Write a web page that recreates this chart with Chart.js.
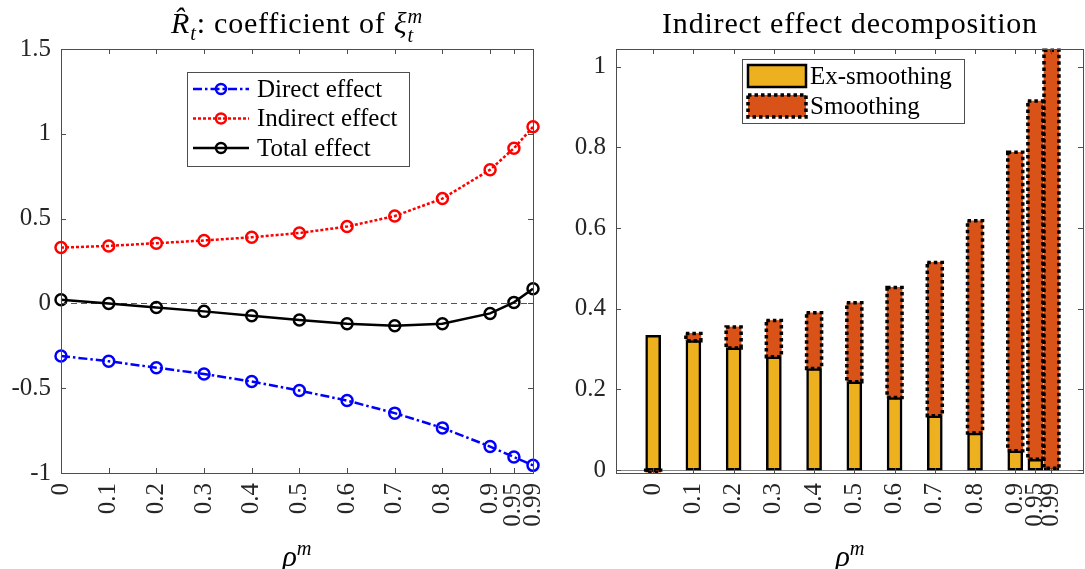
<!DOCTYPE html>
<html lang="en">
<head>
    <meta charset="UTF-8">
    <title>Coefficient of xi and indirect effect decomposition</title>
    <script src="https://cdn.jsdelivr.net/npm/chart.js"></script>
    <style>
        body {
            margin: 0;
            padding: 0;
            background: #fff;
            font-family: "Liberation Serif", "DejaVu Serif", serif;
        }

        #wrap {
            position: relative;
            width: 1085px;
            height: 569px;
            overflow: hidden;
        }

        .panel {
            position: absolute;
            top: 0;
            height: 569px;
        }

        #leftPanel { left: 0; width: 545px; }
        #rightPanel { left: 545px; width: 540px; }

        .title, .xlabel {
            position: absolute;
            width: 500px;
            text-align: center;
            color: #000;
            white-space: nowrap;
        }

        .title {
            top: 5px;
            font-size: 30px;
            line-height: 36px;
            letter-spacing: 0.8px;
        }

        .xlabel {
            top: 530px;
            font-size: 30px;
            line-height: 36px;
        }

        .ss {
            display: inline-block;
            font-size: 0.68em;
            line-height: 0.95;
            vertical-align: -0.45em;
            text-align: left;
        }
    </style>
</head>
<body>

<div id="wrap">
    <div class="panel" id="leftPanel"><canvas id="effectChart"></canvas></div>
    <div class="panel" id="rightPanel"><canvas id="decompChart"></canvas></div>

    <div class="title" style="left:47px"><i>R&#770;</i><sub style="font-size:0.68em"><i>t</i></sub>: coefficient of <i>&xi;</i><span class="ss"><i>m</i><br><i>t</i></span></div>
    <div class="title" style="left:600px">Indirect effect decomposition</div>

    <div class="xlabel" style="left:47px"><i>&rho;</i><sup style="font-size:0.68em"><i>m</i></sup></div>
    <div class="xlabel" style="left:600px"><i>&rho;</i><sup style="font-size:0.68em"><i>m</i></sup></div>
</div>

<script>
    // values
    const rho = [0, 0.1, 0.2, 0.3, 0.4, 0.5, 0.6, 0.7, 0.8, 0.9, 0.95, 0.99];
    const directEffect = [-0.310, -0.341, -0.379, -0.416, -0.461, -0.514, -0.573, -0.647, -0.734, -0.844, -0.906, -0.955];
    const indirectEffect = [0.329, 0.339, 0.355, 0.371, 0.390, 0.415, 0.453, 0.515, 0.618, 0.788, 0.915, 1.041];
    const totalEffect = [0.021, 0.000, -0.024, -0.047, -0.073, -0.098, -0.120, -0.132, -0.120, -0.059, 0.006, 0.086];
    const exSmoothing = [0.334, 0.321, 0.303, 0.281, 0.252, 0.219, 0.180, 0.135, 0.092, 0.048, 0.027, 0.005];
    const smoothing = [-0.005, 0.018, 0.052, 0.090, 0.138, 0.196, 0.273, 0.380, 0.526, 0.740, 0.888, 1.036];
    const leftYTicks = [-1, -0.5, 0, 0.5, 1, 1.5];
    const rightYTicks = [0, 0.2, 0.4, 0.6, 0.8, 1];

    const FONT = '"Liberation Serif", "DejaVu Serif", serif';
    const AXIS_COLOR = '#4d4d4d';
    const TEXT_COLOR = '#262626';

    function points(ys) {
        return rho.map((r, i) => ({ x: r, y: ys[i] }));
    }

    // box around the axes with inward ticks on all four sides (matlab look)
    const boxPlugin = {
        id: 'box',
        afterDraw(chart) {
            const ctx = chart.ctx;
            const a = chart.chartArea;
            const xs = chart.scales.x, ys = chart.scales.y;
            ctx.save();
            ctx.strokeStyle = AXIS_COLOR;
            ctx.lineWidth = 1;
            ctx.setLineDash([]);
            ctx.strokeRect(Math.round(a.left) + 0.5, Math.round(a.top) + 0.5,
                Math.round(a.right - a.left), Math.round(a.bottom - a.top));
            ctx.beginPath();
            xs.ticks.forEach(t => {
                const px = Math.round(xs.getPixelForValue(t.value)) + 0.5;
                ctx.moveTo(px, a.bottom); ctx.lineTo(px, a.bottom - 5);
                ctx.moveTo(px, a.top); ctx.lineTo(px, a.top + 5);
            });
            ys.ticks.forEach(t => {
                const py = Math.round(ys.getPixelForValue(t.value)) + 0.5;
                ctx.moveTo(a.left, py); ctx.lineTo(a.left + 5, py);
                ctx.moveTo(a.right, py); ctx.lineTo(a.right - 5, py);
            });
            ctx.stroke();
            ctx.restore();
        }
    };

    // dashed zero line
    const zeroLinePlugin = {
        id: 'zeroLine',
        beforeDatasetsDraw(chart, args, opts) {
            const ctx = chart.ctx;
            const a = chart.chartArea;
            const py = Math.round(chart.scales.y.getPixelForValue(0)) + 0.5;
            ctx.save();
            ctx.strokeStyle = opts.color || '#555';
            ctx.lineWidth = 1;
            ctx.setLineDash(opts.dash || [6, 4]);
            ctx.beginPath();
            ctx.moveTo(a.left, py);
            ctx.lineTo(a.right, py);
            ctx.stroke();
            ctx.restore();
        }
    };

    function xAxis(min, max, stacked) {
        return {
            type: 'linear',
            min: min,
            max: max,
            stacked: stacked,
            grid: { display: false, drawTicks: false },
            border: { display: false },
            afterBuildTicks: s => { s.ticks = rho.map(v => ({ value: v })); },
            afterFit: s => {
                s.height = 96;
                s.paddingLeft = 0;
                s.paddingRight = 0;
            },
            ticks: {
                autoSkip: false,
                minRotation: 90,
                maxRotation: 90,
                padding: 10,
                color: TEXT_COLOR,
                font: { family: FONT, size: 25 },
                callback: v => String(v)
            }
        };
    }

    function yAxis(min, max, tickList, width, stacked) {
        return {
            type: 'linear',
            min: min,
            max: max,
            stacked: stacked,
            grid: { display: false, drawTicks: false },
            border: { display: false },
            afterBuildTicks: s => { s.ticks = tickList.map(v => ({ value: v })); },
            afterFit: s => {
                s.width = width;
                s.paddingTop = 0;
                s.paddingBottom = 0;
            },
            ticks: {
                padding: 10,
                color: TEXT_COLOR,
                font: { family: FONT, size: 25 },
                callback: v => String(v)
            }
        };
    }

    // ---------- left: coefficient chart ----------
    const lineSets = [
        { label: 'Direct effect', data: points(directEffect), color: '#0000ff', dash: [9, 3, 2.5, 3] },
        { label: 'Indirect effect', data: points(indirectEffect), color: '#ff0000', dash: [3, 2] },
        { label: 'Total effect', data: points(totalEffect), color: '#000000', dash: [] }
    ];

    const lineLegend = {
        id: 'lineLegend',
        afterDraw(chart) {
            const ctx = chart.ctx;
            const a = chart.chartArea;
            const bx = a.left + 126, by = a.top + 23, bw = 222, bh = 94;
            ctx.save();
            ctx.fillStyle = '#fff';
            ctx.fillRect(bx, by, bw, bh);
            ctx.strokeStyle = AXIS_COLOR;
            ctx.lineWidth = 1;
            ctx.strokeRect(Math.round(bx) + 0.5, Math.round(by) + 0.5, bw, bh);
            ctx.font = '25px ' + FONT;
            ctx.textBaseline = 'middle';
            ctx.fillStyle = '#000';
            lineSets.forEach((d, i) => {
                const cy = by + 17 + i * 29.5;
                ctx.strokeStyle = d.color;
                ctx.lineWidth = 2.5;
                ctx.setLineDash(d.dash);
                ctx.beginPath();
                ctx.moveTo(bx + 6, cy);
                ctx.lineTo(bx + 62, cy);
                ctx.stroke();
                ctx.setLineDash([]);
                ctx.beginPath();
                ctx.arc(bx + 34, cy, 5, 0, Math.PI * 2);
                ctx.stroke();
                ctx.fillText(d.label, bx + 70, cy + 1);
            });
            ctx.restore();
        }
    };

    new Chart(document.getElementById('effectChart'), {
        type: 'line',
        data: {
            datasets: lineSets.map(d => ({
                label: d.label,
                data: d.data,
                borderColor: d.color,
                borderWidth: 2.5,
                borderDash: d.dash,
                pointStyle: 'circle',
                pointRadius: 5.5,
                pointBorderWidth: 2.5,
                pointBorderColor: d.color,
                pointBackgroundColor: 'rgba(0,0,0,0)',
                tension: 0,
                fill: false,
                clip: false
            }))
        },
        options: {
            responsive: true,
            maintainAspectRatio: false,
            animation: false,
            layout: { padding: { left: 0, right: 12, top: 49, bottom: 0 } },
            plugins: {
                legend: { display: false },
                tooltip: { enabled: false },
                zeroLine: { color: '#555', dash: [6, 4] }
            },
            scales: {
                x: xAxis(0, 0.99, false),
                y: yAxis(-1, 1.5, leftYTicks, 61, false)
            }
        },
        plugins: [zeroLinePlugin, boxPlugin, lineLegend]
    });

    // ---------- right: decomposition bars ----------
    const barSets = [
        { label: 'Ex-smoothing', data: points(exSmoothing), fill: '#EDB120', dotted: false },
        { label: 'Smoothing', data: points(smoothing), fill: '#D95319', dotted: true }
    ];

    // dotted outline for the smoothing bars (bar elements can't dash their border)
    const dottedBars = {
        id: 'dottedBars',
        afterDatasetsDraw(chart) {
            const ctx = chart.ctx;
            const meta = chart.getDatasetMeta(1);
            ctx.save();
            ctx.strokeStyle = '#000';
            ctx.lineWidth = 3.5;
            ctx.setLineDash([3.5, 3]);
            meta.data.forEach(el => {
                const p = el.getProps(['x', 'y', 'base', 'width'], true);
                const top = Math.min(p.y, p.base), h = Math.abs(p.base - p.y);
                ctx.strokeRect(p.x - p.width / 2, top, p.width, h);
            });
            ctx.restore();
        }
    };

    const barLegend = {
        id: 'barLegend',
        afterDraw(chart) {
            const ctx = chart.ctx;
            const a = chart.chartArea;
            const bx = a.left + 126, by = a.top + 10, bw = 222, bh = 64;
            ctx.save();
            ctx.fillStyle = '#fff';
            ctx.fillRect(bx, by, bw, bh);
            ctx.strokeStyle = AXIS_COLOR;
            ctx.lineWidth = 1;
            ctx.strokeRect(Math.round(bx) + 0.5, Math.round(by) + 0.5, bw, bh);
            ctx.font = '25px ' + FONT;
            ctx.textBaseline = 'middle';
            barSets.forEach((d, i) => {
                const sy = by + 6 + i * 30;
                ctx.fillStyle = d.fill;
                ctx.fillRect(bx + 6, sy, 58, 22);
                ctx.strokeStyle = '#000';
                ctx.lineWidth = d.dotted ? 3.5 : 2.5;
                ctx.setLineDash(d.dotted ? [3.5, 3] : []);
                ctx.strokeRect(bx + 6, sy, 58, 22);
                ctx.setLineDash([]);
                ctx.fillStyle = '#000';
                ctx.fillText(d.label, bx + 68, sy + 12);
            });
            ctx.restore();
        }
    };

    new Chart(document.getElementById('decompChart'), {
        type: 'bar',
        data: {
            datasets: barSets.map(d => ({
                label: d.label,
                data: d.data,
                backgroundColor: d.fill,
                borderColor: '#000',
                borderWidth: d.dotted ? 0 : 2.5,
                borderSkipped: false,
                barThickness: 15
            }))
        },
        options: {
            responsive: true,
            maintainAspectRatio: false,
            animation: false,
            layout: { padding: { left: 0, right: 2, top: 49, bottom: 0 } },
            plugins: {
                legend: { display: false },
                tooltip: { enabled: false },
                zeroLine: { color: '#888', dash: [] }
            },
            scales: {
                x: xAxis(-0.044, 1.02, true),
                y: yAxis(-0.007, 1.044, rightYTicks, 71, true)
            }
        },
        plugins: [zeroLinePlugin, dottedBars, boxPlugin, barLegend]
    });
</script>

</body>
</html>
